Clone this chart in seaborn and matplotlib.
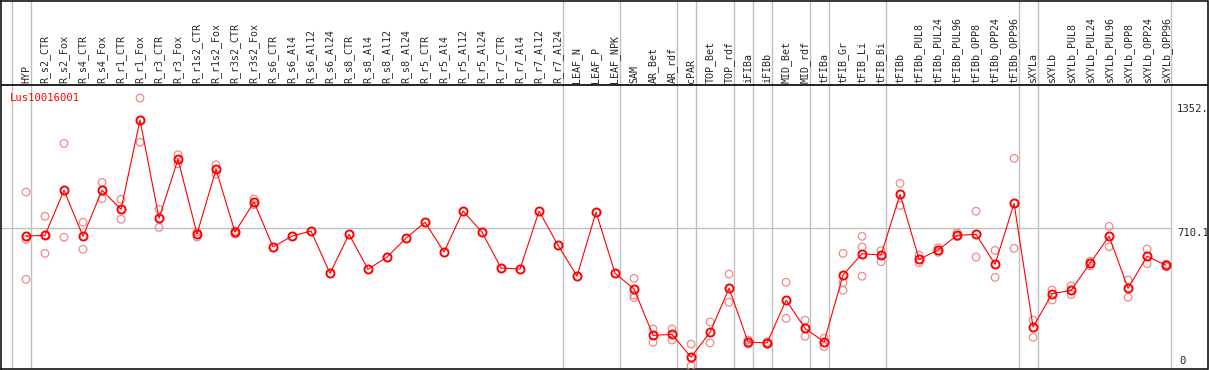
import numpy as np
import pandas as pd
import matplotlib
matplotlib.use("Agg")
import matplotlib.pyplot as plt
import seaborn as sns


# nazwy prob (kolejnosc jak na wykresie)
samples = ["HYP",
           "R_s2_CTR", "R_s2_Fox", "R_s4_CTR", "R_s4_Fox", "R_r1_CTR", "R_r1_Fox",
           "R_r3_CTR", "R_r3_Fox", "R_r1s2_CTR", "R_r1s2_Fox", "R_r3s2_CTR", "R_r3s2_Fox",
           "R_s6_CTR", "R_s6_Al4", "R_s6_Al12", "R_s6_Al24",
           "R_s8_CTR", "R_s8_Al4", "R_s8_Al12", "R_s8_Al24",
           "R_r5_CTR", "R_r5_Al4", "R_r5_Al12", "R_r5_Al24",
           "R_r7_CTR", "R_r7_Al4", "R_r7_Al12", "R_r7_Al24",
           "LEAF_N", "LEAF_P", "LEAF_NPK",
           "SAM", "AR_Bet", "AR_rdf",
           "cPAR",
           "TOP_Bet", "TOP_rdf",
           "iFIBa",
           "iFIBb",
           "MID_Bet", "MID_rdf",
           "tFIBa",
           "tFIB_Gr", "tFIB_Li", "tFIB_Bi",
           "tFIBb", "tFIBb_PUL8", "tFIBb_PUL24", "tFIBb_PUL96", "tFIBb_OPP8", "tFIBb_OPP24", "tFIBb_OPP96",
           "sXYLa",
           "sXYLb", "sXYLb_PUL8", "sXYLb_PUL24", "sXYLb_PUL96", "sXYLb_OPP8", "sXYLb_OPP24", "sXYLb_OPP96"]

# ile prob w kazdej grupie (szare pionowe linie miedzy grupami)
group_sizes = [1, 28, 3, 3, 1, 2, 1, 1, 2, 1, 3, 7, 1, 7]

gene = "Lus10016001"

# srednie (czerwona linia)
means = [670, 674, 906, 669, 906, 808, 1269, 762, 1066, 681, 1014, 690, 846,
         614, 670, 696, 478, 679, 499, 562, 659, 741, 588, 799, 690, 505, 500, 799, 622,
         464, 794, 478,
         397, 158, 163,
         45,
         174, 401,
         124,
         119,
         339, 194,
         124,
         469, 579, 572,
         885, 550, 598, 674, 679, 524, 839,
         201,
         373, 390, 530, 669, 401, 566, 519]

# powtorzenia (jasne kolka)
replicates = [[897, 653, 447], [772, 581, 674], [1148, 664], [741, 602], [947, 863],
              [860, 757], [1382, 1154], [808, 715], [1090, 1043], [691, 665],
              [1038, 989], [696, 681], [861, 832],
              [], [], [], [], [], [], [], [], [], [], [], [], [], [], [], [],
              [], [], [],
              [452, 366, 353], [191, 122], [191, 134],
              [113, 0],
              [227, 119], [474, 329],
              [134, 113],
              [124, 113],
              [432, 246], [236, 153],
              [143, 100],
              [581, 430, 390], [669, 614, 463], [595, 538],
              [942, 828], [572, 533], [610, 586], [687, 667], [798, 562], [596, 457], [1071, 607],
              [237, 148],
              [392, 340], [414, 368], [541, 516], [720, 615], [444, 354], [603, 528], [526, 512]]

# wartosci na prawej osi
ref_levels = [1352, 710.1, 0]

x = np.arange(len(samples))
df_mean = pd.DataFrame({"x": x, "value": means})
rep_rows = [(i, v) for i, vals in enumerate(replicates) for v in vals]
df_rep = pd.DataFrame(rep_rows, columns=["x", "value"])

sns.set_style("white")
plt.rcParams["font.family"] = ["DejaVu Sans Mono", "DejaVu Sans"]

fig = plt.figure(figsize=(12.09, 3.70), dpi=100)
ax = fig.add_axes([1 / 1209, 1.5 / 370, 1206.5 / 1209, 368 / 370])

# skala: 1 px ~ 5.157 jednostek, naglowek nad danymi
px = 5.157
ax.set_xlim(-1.316, 62.18)
ax.set_ylim(-12.9, 1885)
header_y = 281 * px
label_y = 283 * px

# szare linie grup
ends = np.cumsum(group_sizes) - 1
for b in [-1] + list(ends):
    ax.axvline(b + 0.25, color="#c0c0c0", lw=1.0, zorder=1)
ax.hlines(ref_levels[1], -1.316, ends[-1] + 0.25, color="#c0c0c0", lw=1.0, zorder=1)
ax.axhline(header_y, color="black", lw=1.2, zorder=2)

sns.scatterplot(data=df_rep, x="x", y="value", ax=ax, marker="o", s=30,
                facecolor="none", edgecolor="#ee8a8a", linewidth=0.9, zorder=3)
sns.lineplot(data=df_mean, x="x", y="value", ax=ax, color="red", linewidth=0.8,
             marker="o", markersize=5.8, markerfacecolor="none",
             markeredgecolor="red", markeredgewidth=1.4, zorder=4)

# etykiety prob w naglowku
for i, name in enumerate(samples):
    ax.text(i, label_y, name, rotation=90, ha="center", va="bottom", fontsize=7.2)

ax.text(-0.84, 1382, gene, color="red", fontsize=7.6, va="center", ha="left")

ax.text(60.55, ref_levels[0], "1352.", fontsize=7.6, va="top", ha="left", clip_on=True)
ax.text(60.6, ref_levels[1], "710.1", fontsize=7.6, va="top", ha="left", clip_on=True)
ax.text(60.7, ref_levels[2], "0", fontsize=7.6, va="bottom", ha="left", clip_on=True)

ax.set_xticks([])
ax.set_yticks([])
ax.set_xlabel("")
ax.set_ylabel("")
for s in ax.spines.values():
    s.set_color("black")
    s.set_linewidth(1.1)

fig.savefig("out.png", dpi=100)
